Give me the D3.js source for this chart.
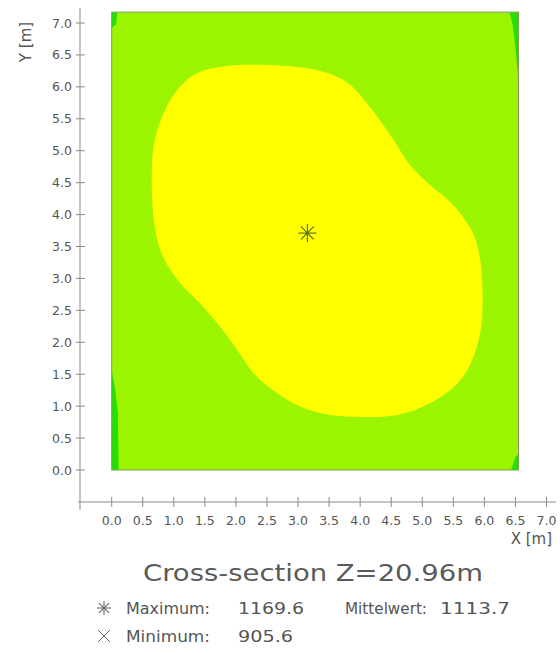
<!DOCTYPE html>
<html><head><meta charset="utf-8">
<script src="https://cdn.jsdelivr.net/npm/d3@7"></script>
<style>body{margin:0;background:#fff}svg{display:block}</style>
</head><body>
<script>
// ---- data (metres) ----
const xTicks = [0,0.5,1,1.5,2,2.5,3,3.5,4,4.5,5,5.5,6,6.5,7];
const yTicks = [0,0.5,1,1.5,2,2.5,3,3.5,4,4.5,5,5.5,6,6.5,7];
const domainX = [0, 6.55];
const domainY = [0, 7.17];
// boundary of the upper contour band (yellow)
const yellowX = [1.80,2.60,3.15,3.57,3.84,4.17,4.49,4.81,5.13,5.46,5.67,5.83,5.94,5.97,5.94,5.78,5.57,5.13,4.60,4.05,3.52,3.04,2.60,2.28,2.02,1.75,1.42,1.10,0.83,0.70,0.65,0.67,0.78,0.92,1.10,1.36];
const yellowY = [6.32,6.34,6.29,6.18,6.03,5.67,5.24,4.77,4.46,4.19,3.94,3.68,3.24,2.71,2.19,1.67,1.36,1.05,0.86,0.83,0.86,0.99,1.25,1.52,1.88,2.24,2.61,2.93,3.33,3.76,4.30,5.04,5.45,5.75,6.00,6.21];
// lower contour band (green) patches at the walls
const lowPatches = [
  {x:[0,0.11,0.10,0.05,0.01,0], y:[0,0,0.9,1.3,1.5,1.55]},
  {x:[0,0.09,0.07,0], y:[7.17,7.17,6.98,6.92]},
  {x:[6.40,6.55,6.55,6.53,6.49,6.45], y:[7.17,7.17,5.95,6.3,6.7,7.0]},
  {x:[6.43,6.55,6.55,6.50], y:[0,0,0.26,0.2]}
];
const maxPoint = {x:3.15, y:3.71};
const title = "Cross-section Z=20.96m";
const stats = {maximum:"1169.6", mittelwert:"1113.7", minimum:"905.6"};

const W=560,H=653;
const svg=d3.select("body").append("svg").attr("width",W).attr("height",H);
const xs=d3.scaleLinear().domain([0,7]).range([111.7,546.5]);
const ys=d3.scaleLinear().domain([0,7]).range([470,23]);

const cBase="#9cf500", cHigh="#ffff00", cLow="#22e000";
const font="DejaVu Sans, Verdana, sans-serif";
const txt="#555";

// plot area
const px0=xs(domainX[0]), px1=xs(domainX[1]), py0=ys(domainY[1]), py1=ys(domainY[0]);
svg.append("defs").append("clipPath").attr("id","clip").append("rect")
  .attr("x",px0).attr("y",py0).attr("width",px1-px0).attr("height",py1-py0);
const g=svg.append("g").attr("clip-path","url(#clip)");
g.append("rect").attr("x",px0).attr("y",py0).attr("width",px1-px0).attr("height",py1-py0).attr("fill",cBase);
lowPatches.forEach(p=>{
  g.append("path").attr("d",d3.line().x(d=>xs(d[0])).y(d=>ys(d[1])).curve(d3.curveLinearClosed)(p.x.map((v,i)=>[v,p.y[i]]))).attr("fill",cLow);
});
g.append("path").attr("d",d3.line().x(d=>xs(d[0])).y(d=>ys(d[1])).curve(d3.curveCatmullRomClosed)(yellowX.map((v,i)=>[v,yellowY[i]])))
  .attr("fill",cHigh);
svg.append("rect").attr("x",px0).attr("y",py0).attr("width",px1-px0).attr("height",py1-py0)
  .attr("fill","none").attr("stroke","#7f9a55").attr("stroke-width",1);

// max marker
function star(sel,cx,cy,r,col){
  for(let k=0;k<4;k++){const a=k*Math.PI/4;
    sel.append("line").attr("x1",cx-r*Math.cos(a)).attr("y1",cy-r*Math.sin(a))
      .attr("x2",cx+r*Math.cos(a)).attr("y2",cy+r*Math.sin(a)).attr("stroke",col).attr("stroke-width",1.1);}
}
star(svg,xs(maxPoint.x),ys(maxPoint.y),9,"#4f6a2a");

// axes
const axCol="#8a8a8a";
const xAxisY=502, yAxisX=80;
svg.append("line").attr("x1",78).attr("x2",556).attr("y1",xAxisY).attr("y2",xAxisY).attr("stroke",axCol);
svg.append("line").attr("x1",yAxisX).attr("x2",yAxisX).attr("y1",8).attr("y2",510).attr("stroke",axCol);
xTicks.forEach((t,i)=>{
  svg.append("line").attr("x1",xs(t)).attr("x2",xs(t)).attr("y1",xAxisY-5).attr("y2",xAxisY+5).attr("stroke",axCol);
  svg.append("text").attr("x",xs(t)).attr("y",525).attr("text-anchor","middle")
    .attr("font-family",font).attr("font-size",12.5).attr("fill",txt).text(t.toFixed(1));
});
yTicks.forEach(t=>{
  svg.append("line").attr("x1",yAxisX-4).attr("x2",yAxisX+5).attr("y1",ys(t)).attr("y2",ys(t)).attr("stroke",axCol);
  svg.append("text").attr("x",72).attr("y",ys(t)+4.5).attr("text-anchor","end")
    .attr("font-family",font).attr("font-size",12.5).attr("fill",txt).text(t.toFixed(1));
});
svg.append("text").attr("transform","translate(31,42) rotate(-90)").attr("text-anchor","middle")
  .attr("font-family",font).attr("font-size",15).attr("fill",txt).text("Y [m]");
svg.append("text").attr("x",552).attr("y",544).attr("text-anchor","end")
  .attr("font-family",font).attr("font-size",15).attr("fill",txt).text("X [m]");

// title
svg.append("text").attr("x",143).attr("y",581).attr("textLength",340).attr("lengthAdjust","spacingAndGlyphs")
  .attr("font-family",font).attr("font-size",23).attr("fill","#5a5a5a").text(title);

// legend
star(svg,104,608,7,"#666");
svg.append("line").attr("x1",98).attr("y1",630).attr("x2",110).attr("y2",642).attr("stroke","#666");
svg.append("line").attr("x1",98).attr("y1",642).attr("x2",110).attr("y2",630).attr("stroke","#666");
const lg=(x,y,s,w)=>{const t=svg.append("text").attr("x",x).attr("y",y).attr("font-family",font).attr("font-size",16).attr("fill",txt).text(s);
  if(w) t.attr("textLength",w).attr("lengthAdjust","spacingAndGlyphs");};
lg(126,614,"Maximum:",84); lg(238,614,stats.maximum,66);
lg(345,614,"Mittelwert:",82); lg(440,614,stats.mittelwert,70);
lg(126,642,"Minimum:",84); lg(238,642,stats.minimum,55);
</script>
</body></html>
